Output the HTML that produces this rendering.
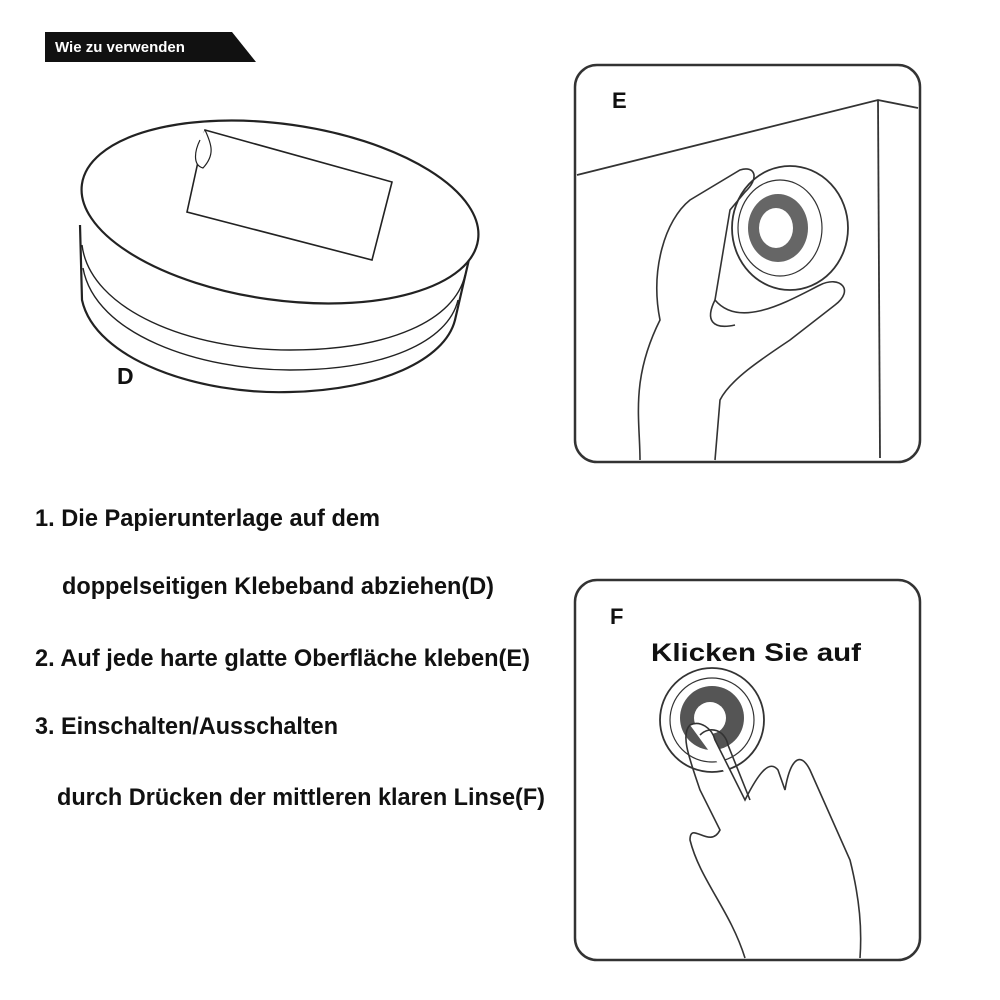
<!DOCTYPE html>
<html><head><meta charset="utf-8"><style>
html,body{margin:0;padding:0;background:#fff;}
svg{display:block}
text{font-family:"Liberation Sans",sans-serif;}
</style></head><body>
<svg width="1000" height="1000" viewBox="0 0 1000 1000" xmlns="http://www.w3.org/2000/svg">
<!-- banner -->
<polygon points="45,32 232,32 256,62 45,62" fill="#111"/>
<text x="55" y="52" font-size="15" font-weight="bold" fill="#fff">Wie zu verwenden</text>

<!-- puck D -->
<g fill="none" stroke="#222" stroke-width="2.2">
<path d="M80,225 L82,300 C95,360 200,395 290,392 C380,390 445,360 455,320 L470,255"/>
<ellipse cx="280" cy="212" rx="200" ry="88" fill="#fff" transform="rotate(8 280 212)"/>
<path d="M82,245 C90,310 190,350 290,350 C390,350 455,320 465,275" stroke-width="1.4"/>
<path d="M83,268 C95,335 200,370 290,370 C385,370 448,342 458,300" stroke-width="1.4"/>
<polygon points="205,130 392,182 372,260 187,212" fill="#fff" stroke-width="1.6"/>
<path d="M200,140 C195,150 192,165 203,168 C215,155 212,145 205,130" stroke-width="1.2" fill="#fff"/>
</g>
<text x="117" y="384" font-size="23" font-weight="bold" fill="#111">D</text>

<!-- Box E -->
<rect x="575" y="65" width="345" height="397" rx="22" fill="#fff" stroke="#333" stroke-width="2.5"/>
<text x="612" y="108" font-size="22" font-weight="bold" fill="#111">E</text>
<g fill="none" stroke="#333" stroke-width="1.8">
<path d="M577,175 L878,100 L918,108"/>
<path d="M878,100 L880,458"/>
<ellipse cx="790" cy="228" rx="58" ry="62" fill="#fff"/>
<ellipse cx="780" cy="228" rx="42" ry="48" stroke-width="1.2"/>
</g>
<ellipse cx="778" cy="228" rx="30" ry="34" fill="#666"/>
<ellipse cx="776" cy="228" rx="17" ry="20" fill="#fff"/>
<g fill="none" stroke="#333" stroke-width="1.6">
<path d="M640,460 C640,420 630,380 660,320 C650,270 665,220 690,200 L740,170 C755,165 760,178 745,192 L730,210 C725,240 720,270 715,300 C740,330 790,300 820,285 C840,275 855,290 835,305 L790,340 C760,360 730,380 720,400 L715,460"/>
<path d="M715,300 C705,320 712,330 735,325"/>
</g>

<!-- Text -->
<g font-size="24" fill="#111" font-weight="bold">
<text x="35" y="526" textLength="345" lengthAdjust="spacingAndGlyphs">1. Die Papierunterlage auf dem</text>
<text x="62" y="594" textLength="432" lengthAdjust="spacingAndGlyphs">doppelseitigen Klebeband abziehen(D)</text>
<text x="35" y="666" textLength="495" lengthAdjust="spacingAndGlyphs">2. Auf jede harte glatte Oberfläche kleben(E)</text>
<text x="35" y="734" textLength="303" lengthAdjust="spacingAndGlyphs">3. Einschalten/Ausschalten</text>
<text x="57" y="805" textLength="488" lengthAdjust="spacingAndGlyphs">durch Drücken der mittleren klaren Linse(F)</text>
</g>

<!-- Box F -->
<rect x="575" y="580" width="345" height="380" rx="22" fill="#fff" stroke="#333" stroke-width="2.5"/>
<text x="610" y="624" font-size="22" font-weight="bold" fill="#111">F</text>
<text x="651" y="661" font-size="25" font-weight="bold" fill="#111" textLength="210" lengthAdjust="spacingAndGlyphs">Klicken Sie auf</text>
<g fill="none" stroke="#333" stroke-width="1.8">
<circle cx="712" cy="720" r="52" fill="#fff"/>
<circle cx="712" cy="720" r="42" stroke-width="1.2"/>
</g>
<circle cx="712" cy="718" r="32" fill="#555"/>
<circle cx="710" cy="718" r="16" fill="#fff"/>
<g fill="none" stroke="#333" stroke-width="1.6" >
<path d="M690,725 C700,720 712,728 715,740 L745,800 C760,770 770,760 778,770 L785,790 C790,760 800,750 810,770 L850,860 C860,900 862,930 860,958" fill="#fff"/>
<path d="M690,725 C680,735 690,760 700,790 L720,830 C710,850 690,820 690,840 C700,880 730,910 745,958"/>
<path d="M700,735 C710,725 725,730 728,745 L750,800"/>
</g>
</svg>
</body></html>
